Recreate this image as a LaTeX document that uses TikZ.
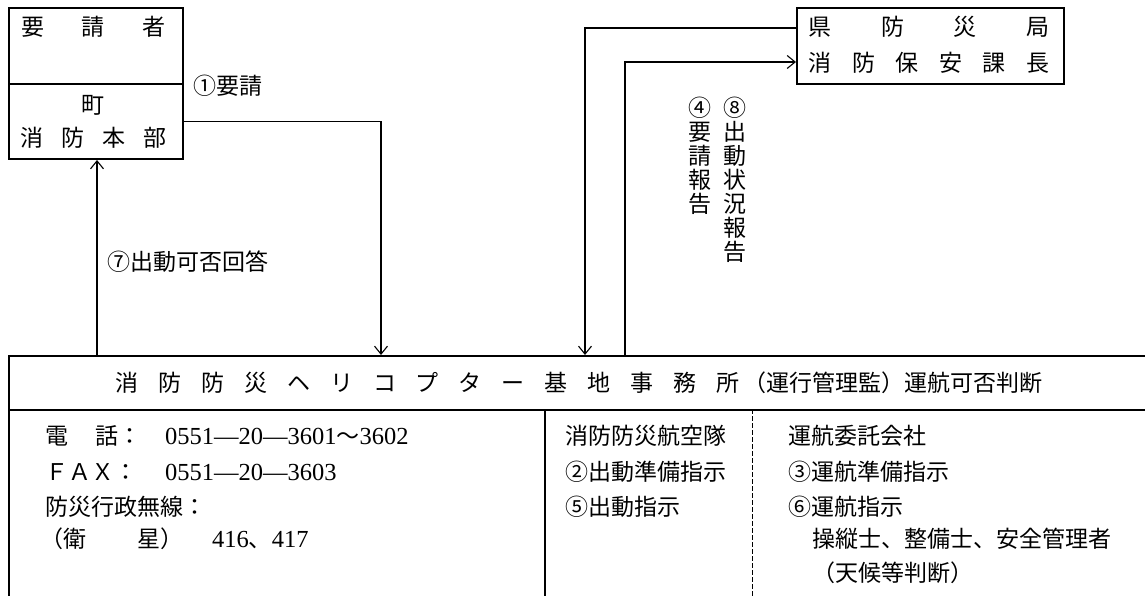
\documentclass[tikz,border=0pt]{standalone}
\usepackage{fontspec}
\setmainfont{Liberation Serif}
\newfontfamily\jp{Noto Sans CJK JP}
\usetikzlibrary{arrows.meta}
\newcommand\fsz{\fontsize{23}{24}\selectfont}
\newcommand\titlegap{\hspace{19.9pt}}
\newcommand\dgt[1]{{\rmfamily\fontsize{24.5}{24}\selectfont #1}}
\begin{document}
\begin{tikzpicture}[x=1pt,y=-1pt,
  box/.style={draw,line width=2pt,inner sep=0pt,anchor=north west},
  conn/.style={line width=1.1pt},
  arr/.style={conn,-{Straight Barb[length=8pt,width=13pt,line width=1.1pt]}},
  sep/.style={line width=2pt},
  dsep/.style={line width=0.9pt,dash pattern=on 5pt off 2pt},
  txt/.style={inner sep=0pt,font=\jp\fsz},
  vtxt/.style={txt,align=center,anchor=north}]
\useasboundingbox (0,0) rectangle (1145,596);
\clip (0,0) rectangle (1145,596);

% boxes
\node[box,minimum width=174pt,minimum height=76pt] (req) at (8,7) {};
\node[box,minimum width=174pt,minimum height=75pt] (town) at (8,83) {};
\node[box,minimum width=267pt,minimum height=76pt] (pref) at (796,7) {};
\node[box,minimum width=1160pt,minimum height=54pt] (base) at (8,355) {};
\node[box,minimum width=1160pt,minimum height=250pt] (info) at (8,409) {};
\draw[sep] (info.north west -| 545,0) -- (545,600);
\draw[dsep] (info.north west -| 752,0) -- (752,600);

% box texts
\node[txt] (reqt) at (93.5,27) {要\hspace{38pt}請\hspace{38pt}者};
\node[txt] (townt1) at (93,105) {町};
\node[txt] (townt2) at (93.5,138) {消\hspace{18pt}防\hspace{18pt}本\hspace{18pt}部};
\node[txt] (preft1) at (929,27) {県\hspace{49.7pt}防\hspace{49.7pt}災\hspace{49.7pt}局};
\node[txt] (preft2) at (929,63) {消\hspace{20.6pt}防\hspace{20.6pt}保\hspace{20.6pt}安\hspace{20.6pt}課\hspace{20.6pt}長};
\node[txt,anchor=west] (title1) at (115.5,383) {消\titlegap 防\titlegap 防\titlegap 災\titlegap ヘ\titlegap リ\titlegap コ\titlegap プ\titlegap タ\titlegap ー\titlegap 基\titlegap 地\titlegap 事\titlegap 務\titlegap 所};
\node[txt,anchor=west] (title2) at (743,383) {（運行管理監）運航可否判断};

% info left column
\node[txt,anchor=west] (tel) at (45,436) {電\hspace{27pt}話：\hspace{24pt}\dgt{0551—20—3601}～\dgt{3602}};
\node[txt,anchor=west] (fax) at (45,472) {ＦＡＸ：\hspace{28pt}\dgt{0551—20—3603}};
\node[txt,anchor=west] (radio) at (45,507) {防災行政無線：};
\node[txt,anchor=west] (sat) at (40,539) {（衛\hspace{51pt}星）\hspace{29pt}\dgt{416}、\dgt{417}};

% info middle column
\node[txt,anchor=west] (m1) at (565,436) {消防防災航空隊};
\node[txt,anchor=west] (m2) at (565,472) {②出動準備指示};
\node[txt,anchor=west] (m3) at (565,507) {⑤出動指示};

% info right column
\node[txt,anchor=west] (r1) at (788,436) {運航委託会社};
\node[txt,anchor=west] (r2) at (788,472) {③運航準備指示};
\node[txt,anchor=west] (r3) at (788,507) {⑥運航指示};
\node[txt,anchor=west] (r4) at (812,539) {操縦士、整備士、安全管理者};
\node[txt,anchor=west] (r5) at (812,573) {（天候等判断）};

% connectors
\draw[arr] (town.east) -| ({381,0} |- base.north);
\draw[arr] ({97,0} |- base.north) -- ({97,0} |- town.south);
\draw[arr] ({0,28} -| pref.west) -| ({585,0} |- base.north);
\draw[arr] ({625,0} |- base.north) |- ({0,62} -| pref.west);

% connector labels
\node[txt,anchor=west] (l1) at (193,86) {①要請};
\node[txt,anchor=west] (l7) at (107,262) {⑦出動可否回答};
\node[vtxt] (l4) at (700,96.5) {④\\要\\請\\報\\告};
\node[vtxt] (l8) at (735,96.5) {⑧\\出\\動\\状\\況\\報\\告};
\end{tikzpicture}
\end{document}
